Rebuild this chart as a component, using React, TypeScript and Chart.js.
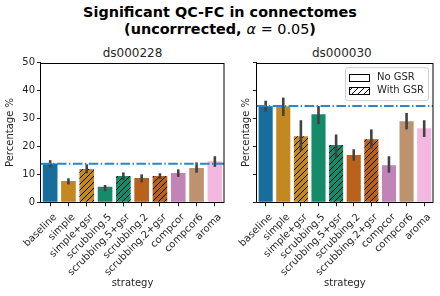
import React, { useEffect, useRef } from "react";
import { Chart, registerables } from "chart.js";

Chart.register(...registerables);

const categories = [
  "baseline",
  "simple",
  "simple+gsr",
  "scrubbing.5",
  "scrubbing.5+gsr",
  "scrubbing.2",
  "scrubbing.2+gsr",
  "compcor",
  "compcor6",
  "aroma",
];
const withGsr = [false, false, true, false, true, false, true, false, false, false];
const barColors = [
  "#176d9c",
  "#c48820",
  "#c48820",
  "#158b6a",
  "#158b6a",
  "#ba611b",
  "#ba611b",
  "#c283b6",
  "#bd926e",
  "#f2b8e0",
];

const ds228Mean = [13.9, 7.6, 11.9, 5.6, 9.4, 8.7, 9.4, 10.5, 12.3, 14.7];
const ds228Low = [12.5, 6.4, 10.4, 4.0, 8.0, 7.1, 8.4, 9.1, 10.6, 12.7];
const ds228High = [15.1, 8.6, 13.6, 6.2, 10.7, 10.0, 10.4, 11.8, 14.3, 16.5];

const ds030Mean = [34.4, 34.4, 23.7, 31.5, 20.5, 16.9, 22.6, 13.3, 29.0, 26.5];
const ds030Low = [32.5, 30.9, 18.3, 28.0, 15.9, 14.9, 19.3, 10.6, 26.1, 23.4];
const ds030High = [36.4, 37.5, 29.4, 34.5, 24.3, 19.0, 26.1, 16.5, 32.0, 29.4];

const baselineRef = [13.8, 34.5];
const yTicks = [0, 10, 20, 30, 40, 50];
const legendLabels = ["No GSR", "With GSR"];

const FONT = "'DejaVu Sans', sans-serif";
const TEXT = "#262626";

function makeHatch(color: string): CanvasPattern | string {
  const s = 6;
  const c = document.createElement("canvas");
  c.width = s;
  c.height = s;
  const g = c.getContext("2d");
  if (!g) return color;
  g.fillStyle = color;
  g.fillRect(0, 0, s, s);
  g.strokeStyle = "#000";
  g.lineWidth = 1;
  g.beginPath();
  g.moveTo(0, s);
  g.lineTo(s, 0);
  g.moveTo(-s, s);
  g.lineTo(s, -s);
  g.moveTo(0, 2 * s);
  g.lineTo(2 * s, 0);
  g.stroke();
  const p = g.createPattern(c, "repeat");
  return p || color;
}

function makeChart(
  canvas: HTMLCanvasElement,
  means: number[],
  lows: number[],
  highs: number[],
  ref: number,
  showYLabels: boolean,
  yAxisWidth: number,
  rightPad: number,
  showLegend: boolean
) {
  const bg = barColors.map((c, i) => (withGsr[i] ? makeHatch(c) : c));
  const whiteHatch = makeHatch("#ffffff");

  const extras = {
    id: "extras",
    afterDatasetsDraw(chart: any) {
      const ctx = chart.ctx;
      const xs = chart.scales.x;
      const ys = chart.scales.y;
      const area = chart.chartArea;
      // error bars
      ctx.save();
      ctx.strokeStyle = "#424242";
      ctx.lineWidth = 2.6;
      ctx.lineCap = "butt";
      for (let i = 0; i < categories.length; i++) {
        const x = xs.getPixelForValue(i);
        ctx.beginPath();
        ctx.moveTo(x, ys.getPixelForValue(lows[i]));
        ctx.lineTo(x, ys.getPixelForValue(highs[i]));
        ctx.stroke();
      }
      // reference line
      const yr = ys.getPixelForValue(ref);
      ctx.strokeStyle = "#2a88c4";
      ctx.lineWidth = 1.8;
      ctx.setLineDash([9.6, 2.4, 1.5, 2.4]);
      ctx.beginPath();
      ctx.moveTo(area.left, yr);
      ctx.lineTo(area.right, yr);
      ctx.stroke();
      ctx.setLineDash([]);
      // frame
      ctx.strokeStyle = "#000";
      ctx.lineWidth = 1;
      ctx.strokeRect(
        Math.round(area.left) - 0.5,
        Math.round(area.top) + 0.5,
        Math.round(area.right) - Math.round(area.left) + 0.5,
        Math.round(area.bottom) - Math.round(area.top)
      );
      ctx.restore();

      if (showLegend) {
        const w = 83;
        const h = 33;
        const bx = area.right - 5 - w;
        const by = area.top + 4.5;
        ctx.save();
        ctx.beginPath();
        ctx.roundRect(bx + 0.5, by + 0.5, w, h, 2.5);
        ctx.fillStyle = "rgba(255,255,255,0.85)";
        ctx.fill();
        ctx.strokeStyle = "#d0d0d0";
        ctx.lineWidth = 1;
        ctx.stroke();
        const fills = ["#ffffff", whiteHatch];
        for (let r = 0; r < 2; r++) {
          const cy = by + 10 + r * 13;
          ctx.fillStyle = fills[r] as any;
          ctx.fillRect(bx + 4.5, Math.round(cy - 3.5) + 0.5, 20, 7);
          ctx.strokeStyle = "#000";
          ctx.strokeRect(bx + 4.5, Math.round(cy - 3.5) + 0.5, 20, 7);
          ctx.fillStyle = TEXT;
          ctx.font = "10px " + FONT;
          ctx.textBaseline = "middle";
          ctx.textAlign = "left";
          ctx.fillText(legendLabels[r], bx + 32, cy + 0.5);
        }
        ctx.restore();
      }
    },
  };

  return new Chart(canvas, {
    type: "bar",
    data: {
      labels: categories,
      datasets: [
        {
          data: means,
          backgroundColor: bg as any,
          borderWidth: 0,
          barPercentage: 0.8,
          categoryPercentage: 1,
        },
      ],
    },
    options: {
      animation: false,
      responsive: false,
      devicePixelRatio: 1,
      events: [],
      layout: { padding: { top: 62.7, right: rightPad, bottom: 2.7, left: 0 } },
      plugins: {
        legend: { display: false },
        tooltip: { enabled: false },
        title: { display: false },
      },
      scales: {
        x: {
          type: "category",
          offset: true,
          grid: {
            display: true,
            drawOnChartArea: false,
            drawTicks: true,
            tickLength: 4,
            color: "#222",
            offset: false,
          },
          border: { display: false },
          ticks: {
            autoSkip: false,
            maxRotation: 45,
            minRotation: 45,
            padding: 5,
            labelOffset: 5,
            color: TEXT,
            font: { family: FONT, size: 10 },
          },
          title: {
            display: true,
            text: "strategy",
            color: TEXT,
            font: { family: FONT, size: 10 },
            padding: { top: 0, bottom: 4 },
          },
          afterFit(scale: any) {
            scale.height = 91;
          },
        },
        y: {
          type: "linear",
          min: 0,
          max: 50,
          afterBuildTicks(scale: any) {
            scale.ticks = yTicks.map((v) => ({ value: v }));
          },
          grid: {
            display: true,
            drawOnChartArea: false,
            drawTicks: true,
            tickLength: 4,
            color: "#222",
          },
          border: { display: false },
          ticks: {
            padding: 2,
            color: TEXT,
            font: { family: FONT, size: 10 },
            callback: (v: any) => (showYLabels ? String(v) : ""),
          },
          title: {
            display: true,
            text: "Percentage %",
            color: TEXT,
            font: { family: FONT, size: 10 },
            padding: { top: 4, bottom: 0 },
          },
          afterFit(scale: any) {
            scale.width = yAxisWidth;
          },
        },
      },
    },
    plugins: [extras],
  } as any);
}

export default function App() {
  const leftRef = useRef<HTMLCanvasElement>(null);
  const rightRef = useRef<HTMLCanvasElement>(null);

  useEffect(() => {
    if (!leftRef.current || !rightRef.current) return;
    const c1 = makeChart(leftRef.current, ds228Mean, ds228Low, ds228High, baselineRef[0], true, 41, 6, false);
    const c2 = makeChart(rightRef.current, ds030Mean, ds030Low, ds030High, baselineRef[1], false, 20.7, 7, true);
    return () => {
      c1.destroy();
      c2.destroy();
    };
  }, []);

  return (
    <div
      style={{
        position: "fixed",
        left: 0,
        top: 0,
        width: 440,
        height: 296,
        background: "#fff",
        fontFamily: FONT,
        color: "#000",
      }}
    >
      <div
        style={{
          position: "absolute",
          left: 0,
          top: 3.5,
          width: 440,
          textAlign: "center",
          fontWeight: "bold",
          fontSize: 14.4,
          lineHeight: "17px",
        }}
      >
        <div>Significant QC-FC in connectomes</div>
        <div>
          (uncorrrected, <span style={{ fontWeight: "normal" }}><i>α</i> = 0.05</span>)
        </div>
      </div>
      <div
        style={{
          position: "absolute",
          left: 32.5,
          top: 46,
          width: 200,
          textAlign: "center",
          fontSize: 12,
          lineHeight: "14px",
          color: TEXT,
        }}
      >
        ds000228
      </div>
      <div
        style={{
          position: "absolute",
          left: 241.85,
          top: 46,
          width: 200,
          textAlign: "center",
          fontSize: 12,
          lineHeight: "14px",
          color: TEXT,
        }}
      >
        ds000030
      </div>
      <canvas
        ref={leftRef}
        width={230}
        height={296}
        style={{ position: "absolute", left: 0, top: 0, width: 230, height: 296 }}
      />
      <canvas
        ref={rightRef}
        width={210}
        height={296}
        style={{ position: "absolute", left: 230, top: 0, width: 210, height: 296 }}
      />
    </div>
  );
}
